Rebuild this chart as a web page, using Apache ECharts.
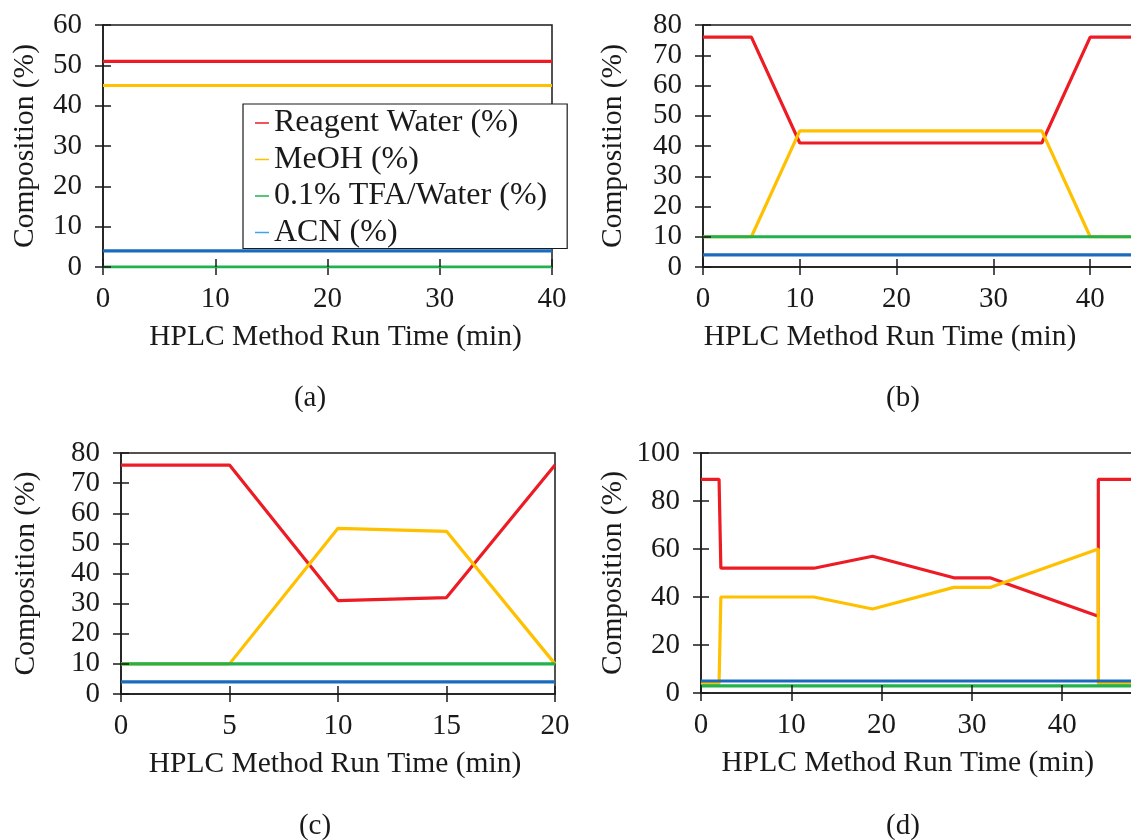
<!DOCTYPE html>
<html>
<head>
<meta charset="utf-8">
<title>HPLC gradient composition</title>
<script src="https://cdn.jsdelivr.net/npm/echarts@6/dist/echarts.min.js"></script>
<style>
  html, body { margin: 0; padding: 0; background: #fff; }
  #chart { width: 1131px; height: 840px; }
</style>
</head>
<body>
<div id="chart"></div>
<script>
const FONT = '"Liberation Serif", "Times New Roman", serif'
const INK = '#1a1a1a'

const seriesNames = ['Reagent Water (%)', 'MeOH (%)', '0.1% TFA/Water (%)', 'ACN (%)']
const lineColors = ['#ed1c24', '#ffc000', '#22b14c', '#1a6bbd']
const legendColors = ['#ed1c24', '#ffc000', '#22b14c', '#3aa6e8']
const xTitle = 'HPLC Method Run Time (min)'
const yTitle = 'Composition (%)'
const panelTags = ['(a)', '(b)', '(c)', '(d)']

// (a) isocratic
const timeA = [0, 40]
const waterA = [51, 51]
const meohA = [45, 45]
const tfaA = [0, 0]
const acnA = [4, 4]

// (b)
const timeB = [0, 5, 10, 35, 40, 50]
const waterB = [76, 76, 41, 41, 76, 76]
const meohB = [10, 10, 45, 45, 10, 10]
const tfaB = [10, 10, 10, 10, 10, 10]
const acnB = [4, 4, 4, 4, 4, 4]

// (c)
const timeC = [0, 5, 10, 15, 20]
const waterC = [76, 76, 31, 32, 76]
const meohC = [10, 10, 55, 54, 10]
const tfaC = [10, 10, 10, 10, 10]
const acnC = [4, 4, 4, 4, 4]

// (d)
const timeD = [0, 2, 2.2, 12.5, 19, 28, 32, 44, 44, 50]
const waterD = [89, 89, 52, 52, 57, 48, 48, 32, 89, 89]
const meohD = [4, 4, 40, 40, 35, 44, 44, 60, 4, 4]
const tfaD = [3, 3, 3, 3, 3, 3, 3, 3, 3, 3]
const acnD = [5, 5, 5, 5, 5, 5, 5, 5, 5, 5]

// axis ranges
const xMax = [40, 50, 20, 50]
const xStep = [10, 10, 5, 10]
const yMax = [60, 80, 80, 100]
const yStep = [10, 10, 10, 20]

const panelData = [
  { time: timeA, values: [waterA, meohA, tfaA, acnA] },
  { time: timeB, values: [waterB, meohB, tfaB, acnB] },
  { time: timeC, values: [waterC, meohC, tfaC, acnC] },
  { time: timeD, values: [waterD, meohD, tfaD, acnD] }
]

// layout of each panel (pixels); (b) and (d) run past the right edge like the cropped original
const layout = [
  { box: { left: 103, top: 25, width: 449, height: 242 }, xShift: 8, yGap: 63, tag: [310, 398] },
  { box: { left: 703, top: 25, width: 484, height: 242 }, xShift: -55, yGap: 75, tag: [903, 398] },
  { box: { left: 121, top: 453, width: 434, height: 241 }, xShift: -3, yGap: 80, tag: [315, 826] },
  { box: { left: 701, top: 453, width: 451.5, height: 240 }, xShift: -19, yGap: 73, tag: [903, 826] }
]

const tickStyle = { color: INK, width: 1.5 }
const labelStyle = { color: INK, fontFamily: FONT, fontSize: 29 }

const grid = []
const xAxis = []
const yAxis = []
const series = []
const graphic = []

layout.forEach((p, i) => {
  grid.push({ ...p.box, outerBoundsMode: 'none', containLabel: false, show: true, borderColor: INK, borderWidth: 1.5 })

  const xBase = { gridIndex: i, type: 'value', min: 0, max: xMax[i], interval: xStep[i], splitLine: { show: false } }
  const yBase = { gridIndex: i, type: 'value', min: 0, max: yMax[i], interval: yStep[i], splitLine: { show: false } }
  const pad = p.xShift > 0 ? [0, 0, 0, 2 * p.xShift] : [0, -2 * p.xShift, 0, 0]

  // labels + inner half of the ticks, drawn above the lines
  xAxis.push({
    ...xBase, position: 'bottom', z: 10,
    axisLine: { show: false, onZero: false },
    axisTick: { inside: true, length: 8, lineStyle: tickStyle },
    axisLabel: { ...labelStyle, margin: 18 },
    name: xTitle, nameLocation: 'middle', nameGap: 55,
    nameTextStyle: { color: INK, fontFamily: FONT, fontSize: 29.5, padding: pad }
  })
  // axis line + outer half of the ticks
  xAxis.push({
    ...xBase, position: 'top', offset: -p.box.height, z: 1,
    axisLine: { show: true, onZero: false, lineStyle: tickStyle },
    axisTick: { inside: true, length: 8, lineStyle: tickStyle },
    axisLabel: { show: false }
  })

  yAxis.push({
    ...yBase, position: 'left', z: 10,
    axisLine: { show: false, onZero: false },
    axisTick: { inside: true, length: 8, lineStyle: tickStyle },
    axisLabel: { ...labelStyle, margin: 21 },
    name: yTitle, nameLocation: 'middle', nameGap: p.yGap,
    nameTextStyle: { color: INK, fontFamily: FONT, fontSize: 29.5 }
  })
  yAxis.push({
    ...yBase, position: 'right', offset: -p.box.width, z: 1,
    axisLine: { show: true, onZero: false, lineStyle: tickStyle },
    axisTick: { inside: true, length: 8, lineStyle: tickStyle },
    axisLabel: { show: false }
  })

  const d = panelData[i]
  d.values.forEach((vals, k) => {
    series.push({
      type: 'line',
      name: seriesNames[k],
      xAxisIndex: 2 * i,
      yAxisIndex: 2 * i,
      data: d.time.map((t, j) => [t, vals[j]]),
      showSymbol: false,
      symbol: 'none',
      lineStyle: { color: lineColors[k], width: 3.2 },
      itemStyle: { color: lineColors[k] },
      z: 2
    })
  })

  graphic.push({
    type: 'text', x: p.tag[0], y: p.tag[1], silent: true,
    style: { text: panelTags[i], fill: INK, fontFamily: FONT, fontSize: 29, align: 'center', verticalAlign: 'middle' }
  })
})

const chart = echarts.init(document.getElementById('chart'), null, { renderer: 'canvas' })
chart.setOption({
  animation: false,
  backgroundColor: '#fff',
  grid,
  xAxis,
  yAxis,
  series,
  graphic,
  legend: {
    orient: 'vertical',
    left: 243,
    top: 104,
    padding: [3, 20, 0, 12],
    backgroundColor: '#fff',
    borderColor: INK,
    borderWidth: 1.2,
    icon: 'rect',
    itemWidth: 14,
    itemHeight: 1.5,
    itemGap: 4.5,
    selectedMode: false,
    textStyle: { color: INK, fontFamily: FONT, fontSize: 32 },
    data: seriesNames.map((n, k) => ({ name: n, itemStyle: { color: legendColors[k] } })),
    z: 20
  }
})
</script>
</body>
</html>
